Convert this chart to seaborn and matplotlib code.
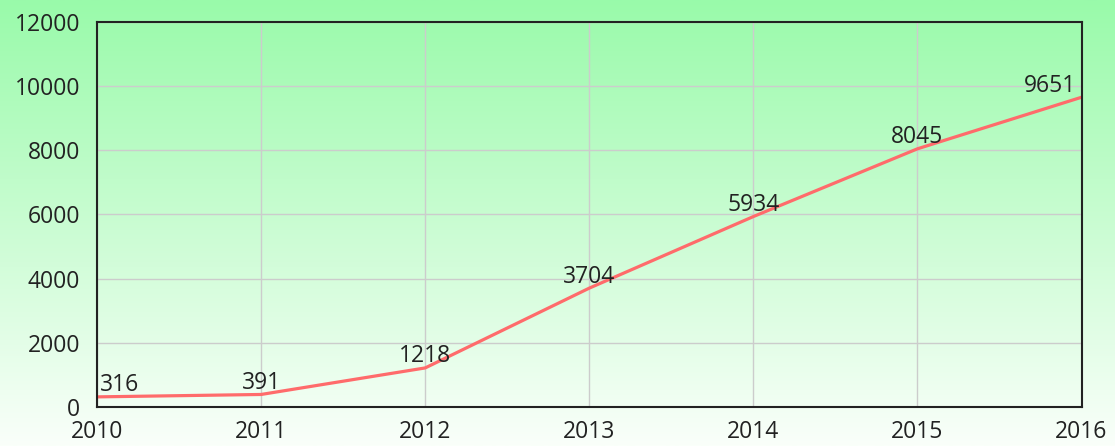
import numpy as np
import pandas as pd
import matplotlib
matplotlib.use("Agg")
import matplotlib.pyplot as plt
import seaborn as sns

years = [2010, 2011, 2012, 2013, 2014, 2015, 2016]
values = [316, 391, 1218, 3704, 5934, 8045, 9651]
y_ticks = [0, 2000, 4000, 6000, 8000, 10000, 12000]

df = pd.DataFrame({"year": years, "value": values})

sns.set_style("white")
plt.rcParams['font.family'] = ['Open Sans', 'DejaVu Sans']

fig = plt.figure(figsize=(11.15, 4.46), dpi=100)

# vertical green -> white gradient behind everything
bg = fig.add_axes([0, 0, 1, 1], zorder=0)
top_col = np.array([153, 250, 170]) / 255.0
bot_col = np.array([250, 255, 250]) / 255.0
t = np.linspace(0, 1, 256)[:, None]
grad = top_col * (1 - t) + bot_col * t
bg.imshow(grad[:, None, :], aspect='auto', extent=[0, 1, 0, 1])
bg.axis('off')

ax = fig.add_axes([0.087, 0.0874, 0.883, 0.8636], zorder=1)
ax.patch.set_alpha(0)

sns.lineplot(data=df, x="year", y="value", ax=ax, color="#ff6b6b", linewidth=2.3)

ax.set_xlim(2010, 2016)
ax.set_ylim(0, 12000)
ax.set_xticks(years)
ax.set_yticks(y_ticks)
ax.set_xticklabels([str(y) for y in years])
ax.set_yticklabels([str(v) for v in y_ticks])
ax.set_xlabel("")
ax.set_ylabel("")
ax.grid(True, color="#cccccc", linewidth=1)
ax.set_axisbelow(True)
ax.tick_params(axis='both', length=0, labelsize=16.5, colors="#222222")
ax.tick_params(axis='y', pad=12)
ax.tick_params(axis='x', pad=9)
for s in ax.spines.values():
    s.set_color("#222222")
    s.set_linewidth(1.5)
    s.set_visible(True)

for i, (x, y) in enumerate(zip(years, values)):
    ha = 'center'
    dx = 0
    if i == 0:
        ha, dx = 'left', 2
    elif i == len(years) - 1:
        ha, dx = 'right', -4
    ax.annotate(str(y), (x, y), xytext=(dx, 4),
                textcoords='offset points', ha=ha, va='baseline',
                fontsize=16.5, color="#222222")

fig.savefig("out.png", dpi=100)
